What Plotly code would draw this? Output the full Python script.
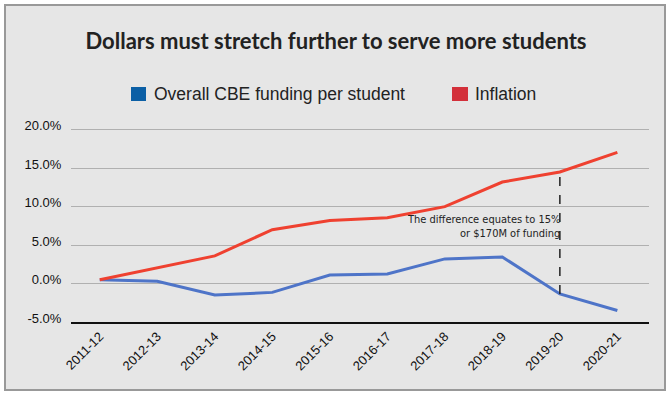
import plotly.graph_objects as go

years = ["2011-12", "2012-13", "2013-14", "2014-15", "2015-16",
         "2016-17", "2017-18", "2018-19", "2019-20", "2020-21"]
funding = [0.5, 0.3, -1.5, -1.15, 1.1, 1.25, 3.2, 3.45, -1.35, -3.5]
inflation = [0.5, 2.05, 3.6, 7.0, 8.2, 8.55, 10.0, 13.2, 14.5, 17.05]
y_ticks = [-5, 0, 5, 10, 15, 20]
y_tick_labels = ["-5.0%", "0.0%", "5.0%", "10.0%", "15.0%", "20.0%"]
gap_year = "2019-20"

W, H = 671, 398
L, R, T, B = 71, 22, 122, 76
pw, ph = W - L - R, H - T - B

def px(x):
    return (x - L) / pw

def py(y):
    return (H - B - y) / ph

BLUE_LINE = "#4e74c8"
RED_LINE = "#ef4130"
NARROW = "Liberation Sans Narrow, DejaVu Sans Condensed, Arial Narrow, sans-serif"

fig = go.Figure()
fig.add_trace(go.Scatter(x=years, y=funding, mode="lines",
                         line=dict(color=BLUE_LINE, width=3),
                         name="Overall CBE funding per student"))
fig.add_trace(go.Scatter(x=years, y=inflation, mode="lines",
                         line=dict(color=RED_LINE, width=3),
                         name="Inflation"))

gi = years.index(gap_year)
fig.add_shape(type="line", xref="x", yref="y",
              x0=gap_year, x1=gap_year, y0=funding[gi], y1=inflation[gi],
              line=dict(color="#222222", width=1.5, dash="dash"))

# outer frame
fig.add_shape(type="rect", xref="paper", yref="paper", layer="below",
              x0=px(5), x1=px(665), y0=py(390), y1=py(5),
              line=dict(color="#999999", width=2), fillcolor="#e6e6e6")

# legend squares
fig.add_shape(type="rect", xref="paper", yref="paper",
              x0=px(131), x1=px(146), y0=py(101), y1=py(87),
              line=dict(width=0), fillcolor="#0b5fa5")
fig.add_shape(type="rect", xref="paper", yref="paper",
              x0=px(452), x1=px(468), y0=py(101), y1=py(87),
              line=dict(width=0), fillcolor="#d3303a")

legend_font = dict(family="Liberation Sans, Arial, sans-serif", size=17.5, color="#222222")
fig.add_annotation(xref="paper", yref="paper", x=px(152), y=py(94),
                   xanchor="left", yanchor="middle", showarrow=False,
                   text="Overall CBE funding per student", font=legend_font)
fig.add_annotation(xref="paper", yref="paper", x=px(473), y=py(94),
                   xanchor="left", yanchor="middle", showarrow=False,
                   text="Inflation", font=legend_font)

fig.add_annotation(xref="paper", yref="paper", x=px(562), y=py(226),
                   xanchor="right", yanchor="middle", showarrow=False, align="right",
                   text="The difference equates to 15%<br>or $170M of funding",
                   font=dict(family=NARROW, size=11, color="#222222"))

fig.update_layout(
    width=W, height=H,
    margin=dict(l=L, r=R, t=T, b=B, pad=0),
    paper_bgcolor="white", plot_bgcolor="rgba(0,0,0,0)",
    showlegend=False,
    title=dict(text="Dollars must stretch further to serve more students",
               x=336 / W, xref="container", xanchor="center",
               y=1 - 41 / H, yref="container", yanchor="middle",
               font=dict(family="Lato, Open Sans, sans-serif", size=22,
                         weight="bold", color="#222222")),
    font=dict(family="Liberation Sans, Arial, sans-serif", size=13, color="#111111"),
)
fig.update_xaxes(type="category", range=[-0.5, 9.55], tickangle=-45,
                 showgrid=False, showline=True, linecolor="#111111", linewidth=1.5,
                 ticks="", tickfont=dict(size=13, color="#111111"))
fig.update_yaxes(range=[-5, 21], tickvals=y_ticks, ticktext=y_tick_labels,
                 showgrid=True, gridcolor="#b0b0b0", gridwidth=1,
                 zeroline=False, ticks="outside", ticklen=6,
                 tickcolor="rgba(0,0,0,0)", ticklabelshift=-4,
                 tickfont=dict(size=13, color="#111111"))

fig.write_html("out.html", config={"displayModeBar": False},
               post_script="document.body.style.margin='0';document.body.style.overflow='hidden';")
